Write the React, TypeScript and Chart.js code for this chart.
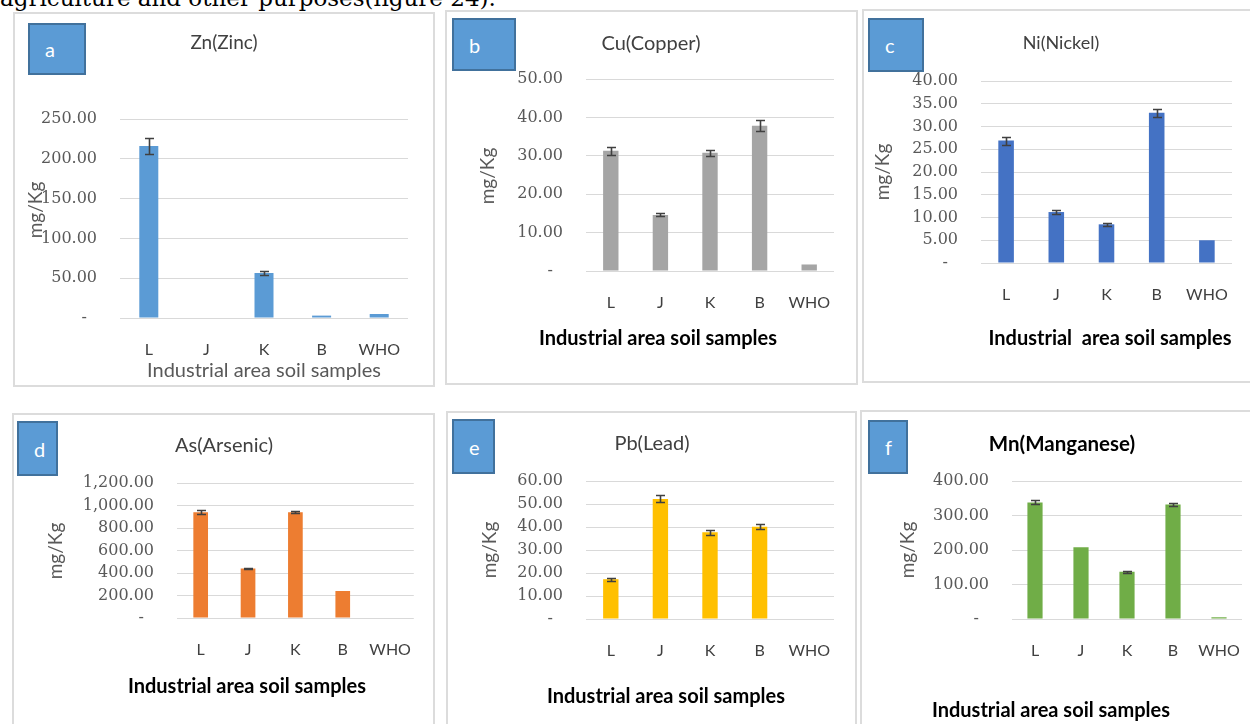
import React, { useEffect, useRef } from 'react';
import { Chart, registerables } from 'chart.js';
Chart.register(...registerables);

// ---------- data ----------
const categories = ['L', 'J', 'K', 'B', 'WHO'];

const zincValues = [216, 0, 56.5, 3, 5];
const zincErrors = [10, 0, 3, 0, 0];

const copperValues = [31.3, 14.6, 30.8, 37.8, 1.7];
const copperErrors = [1.1, 0.4, 0.8, 1.4, 0];

const nickelValues = [26.9, 11.2, 8.5, 33.0, 5.0];
const nickelErrors = [0.9, 0.5, 0.4, 0.9, 0];

const arsenicValues = [940, 440, 940, 240, 0];
const arsenicErrors = [18, 8, 8, 0, 0];

const leadValues = [17.3, 52.2, 37.7, 40.1, 0];
const leadErrors = [0.7, 1.5, 1.1, 1.0, 0];

const manganeseValues = [338, 208, 137, 332, 5];
const manganeseErrors = [6, 0, 3, 4, 0];

const yMaxima = [250, 50, 40, 1200, 60, 400];
const yStepSizes = [50, 10, 5, 200, 10, 100];

const panelLetters = ['a', 'b', 'c', 'd', 'e', 'f'];
const panelTitles = ['Zn(Zinc)', 'Cu(Copper)', 'Ni(Nickel)', 'As(Arsenic)', 'Pb(Lead)', 'Mn(Manganese)'];
const yAxisTitle = 'mg/Kg';
const xAxisTitle = 'Industrial area soil samples';
const xAxisTitleC = 'Industrial  area soil samples';
const topLine = 'agriculture and other purposes(figure 24).';

// ---------- layout / style ----------
type P = {
  values: number[]; errors: number[]; max: number; step: number; color: string; barPct: number;
  rect: number[]; area: number[]; box: number[]; letter: string; title: string; titleBold: boolean; titleSize: number;
  titleC: number[]; yTitleC: number[]; xTitle: string; xTitleC: number[]; xTitleBold: boolean;
};

const panels: P[] = [
  { values: zincValues, errors: zincErrors, max: yMaxima[0], step: yStepSizes[0], color: '#5B9BD5', barPct: 0.33,
    rect: [13, 12, 435, 387], area: [120, 119, 408, 318], box: [28, 23, 86, 75], letter: panelLetters[0],
    title: panelTitles[0], titleBold: false, titleSize: 19, titleC: [224, 42], yTitleC: [35, 210],
    xTitle: xAxisTitle, xTitleC: [264, 369], xTitleBold: false },
  { values: copperValues, errors: copperErrors, max: yMaxima[1], step: yStepSizes[1], color: '#A5A5A5', barPct: 0.31,
    rect: [445, 10, 858, 385], area: [586, 79, 834, 271], box: [452, 18, 516, 71], letter: panelLetters[1],
    title: panelTitles[1], titleBold: false, titleSize: 20, titleC: [651, 42], yTitleC: [487, 176],
    xTitle: xAxisTitle, xTitleC: [658, 337], xTitleBold: true },
  { values: nickelValues, errors: nickelErrors, max: yMaxima[2], step: yStepSizes[2], color: '#4472C4', barPct: 0.31,
    rect: [862, 9, 1262, 383], area: [981, 81, 1232, 263], box: [868, 18, 924, 72], letter: panelLetters[2],
    title: panelTitles[2], titleBold: false, titleSize: 18, titleC: [1061, 42], yTitleC: [882, 172],
    xTitle: xAxisTitleC, xTitleC: [1110, 337], xTitleBold: true },
  { values: arsenicValues, errors: arsenicErrors, max: yMaxima[3], step: yStepSizes[3], color: '#ED7D31', barPct: 0.31,
    rect: [12, 413, 435, 740], area: [177, 483, 414, 618], box: [17, 421, 58, 476], letter: panelLetters[3],
    title: panelTitles[3], titleBold: false, titleSize: 20, titleC: [224, 444], yTitleC: [55, 551],
    xTitle: xAxisTitle, xTitleC: [247, 685], xTitleBold: true },
  { values: leadValues, errors: leadErrors, max: yMaxima[4], step: yStepSizes[4], color: '#FFC000', barPct: 0.31,
    rect: [446, 411, 857, 740], area: [586, 481, 834, 619], box: [452, 419, 495, 474], letter: panelLetters[4],
    title: panelTitles[4], titleBold: false, titleSize: 20, titleC: [652, 442], yTitleC: [489, 550],
    xTitle: xAxisTitle, xTitleC: [666, 695], xTitleBold: true },
  { values: manganeseValues, errors: manganeseErrors, max: yMaxima[5], step: yStepSizes[5], color: '#70AD47', barPct: 0.33,
    rect: [860, 410, 1264, 740], area: [1012, 481, 1242, 619], box: [868, 420, 908, 474], letter: panelLetters[5],
    title: panelTitles[5], titleBold: true, titleSize: 20.5, titleC: [1062, 443], yTitleC: [907, 550],
    xTitle: xAxisTitle, xTitleC: [1051, 709], xTitleBold: true },
];

const SANS = 'Lato, "Noto Sans", sans-serif';
const SERIF = '"DejaVu Serif", serif';

const errorBarPlugin = {
  id: 'errorBars',
  afterDatasetsDraw(chart: any, _args: any, opts: any) {
    const { ctx } = chart;
    const y = chart.scales.y;
    const meta = chart.getDatasetMeta(0);
    const data = chart.data.datasets[0].data as number[];
    const errs: number[] = opts.errors || [];
    ctx.save();
    ctx.strokeStyle = opts.color;
    ctx.lineWidth = opts.width;
    meta.data.forEach((bar: any, i: number) => {
      const e = errs[i];
      if (!e) return;
      const v = data[i];
      const x = Math.round(bar.x) + 0.5;
      const yt = Math.round(y.getPixelForValue(v + e)) + 0.5;
      const yb = Math.round(y.getPixelForValue(v - e)) + 0.5;
      const c = opts.cap / 2;
      ctx.beginPath();
      ctx.moveTo(x, yt); ctx.lineTo(x, yb);
      ctx.moveTo(x - c, yt); ctx.lineTo(x + c, yt);
      ctx.moveTo(x - c, yb); ctx.lineTo(x + c, yb);
      ctx.stroke();
    });
    ctx.restore();
  },
};

const fmt = (v: number) =>
  v === 0 ? '-  ' : v.toLocaleString('en-US', { minimumFractionDigits: 2, maximumFractionDigits: 2 });

function Panel({ p }: { p: P }) {
  const ref = useRef<HTMLCanvasElement | null>(null);
  const [pl, pt, pr, pb] = p.rect;
  const [al, at, ar, ab] = p.area;
  const W = pr - pl;
  const H = pb - pt;
  useEffect(() => {
    const xH = 40;
    const chart = new Chart(ref.current as HTMLCanvasElement, {
      type: 'bar',
      data: {
        labels: categories,
        datasets: [{ data: p.values, backgroundColor: p.color, barPercentage: p.barPct, categoryPercentage: 1 }],
      },
      options: {
        animation: false,
        responsive: false,
        layout: { padding: { left: 0, top: at - pt, right: pr - ar, bottom: pb - ab - xH } },
        plugins: {
          legend: { display: false },
          tooltip: { enabled: false },
          title: { display: false },
          errorBars: { errors: p.errors, color: '#404040', width: 1.6, cap: 9 },
        } as any,
        scales: {
          x: {
            grid: { display: false, drawTicks: false },
            border: { display: false },
            ticks: {
              padding: 22, color: '#404040', font: { family: SANS, size: 16 },
              maxRotation: 0, minRotation: 0, autoSkip: false,
            },
            afterFit: (s: any) => { s.height = xH; },
          },
          y: {
            min: 0,
            max: p.max,
            grid: { color: '#D9D9D9', lineWidth: 1, drawTicks: false },
            border: { display: false },
            ticks: {
              stepSize: p.step,
              padding: 23,
              color: '#595959',
              font: { family: SERIF, size: 16 },
              callback: (v: any) => fmt(Number(v)),
            },
            afterFit: (s: any) => { s.width = al - pl; },
          },
        },
      },
      plugins: [errorBarPlugin],
    });
    return () => chart.destroy();
  }, []);

  const [bl, bt, br, bb] = p.box;
  return (
    <>
      <div style={{ position: 'absolute', left: pl, top: pt, width: W, height: H, border: '2px solid #DCDCDC', boxSizing: 'border-box', background: '#fff' }} />
      <canvas ref={ref} width={W} height={H} style={{ position: 'absolute', left: pl, top: pt }} />
      <div style={{ position: 'absolute', left: p.titleC[0] - 150, top: p.titleC[1] - 13, width: 300, height: 26, lineHeight: '26px', textAlign: 'center', fontFamily: SANS, fontSize: p.titleSize, fontWeight: p.titleBold ? 700 : 400, color: p.titleBold ? '#000' : '#404040', whiteSpace: 'pre' }}>{p.title}</div>
      <div style={{ position: 'absolute', left: p.yTitleC[0] - 50, top: p.yTitleC[1] - 12, width: 100, height: 24, lineHeight: '24px', textAlign: 'center', fontFamily: SANS, fontSize: 19, color: '#595959', transform: 'rotate(-90deg)' }}>{yAxisTitle}</div>
      <div style={{ position: 'absolute', left: p.xTitleC[0] - 200, top: p.xTitleC[1] - 13, width: 400, height: 26, lineHeight: '26px', textAlign: 'center', fontFamily: SANS, fontSize: 20, fontWeight: p.xTitleBold ? 700 : 400, color: p.xTitleBold ? '#000' : '#595959', whiteSpace: 'pre' }}>{p.xTitle}</div>
      <div style={{ position: 'absolute', left: bl, top: bt, width: br - bl, height: bb - bt, background: '#5B9BD5', border: '2px solid #41719C', boxSizing: 'border-box', color: '#fff', fontFamily: SANS, fontSize: 20, paddingLeft: 15, display: 'flex', alignItems: 'center' }}>{p.letter}</div>
    </>
  );
}

export default function App() {
  return (
    <div style={{ position: 'fixed', left: 0, top: 0, width: 1250, height: 724, overflow: 'hidden', background: '#fff' }}>
      <div style={{ position: 'absolute', left: 0, top: -14, fontFamily: SERIF, fontSize: 23, lineHeight: '24px', color: '#000', whiteSpace: 'pre' }}>{topLine}</div>
      {panels.map((p, i) => <Panel key={i} p={p} />)}
    </div>
  );
}
